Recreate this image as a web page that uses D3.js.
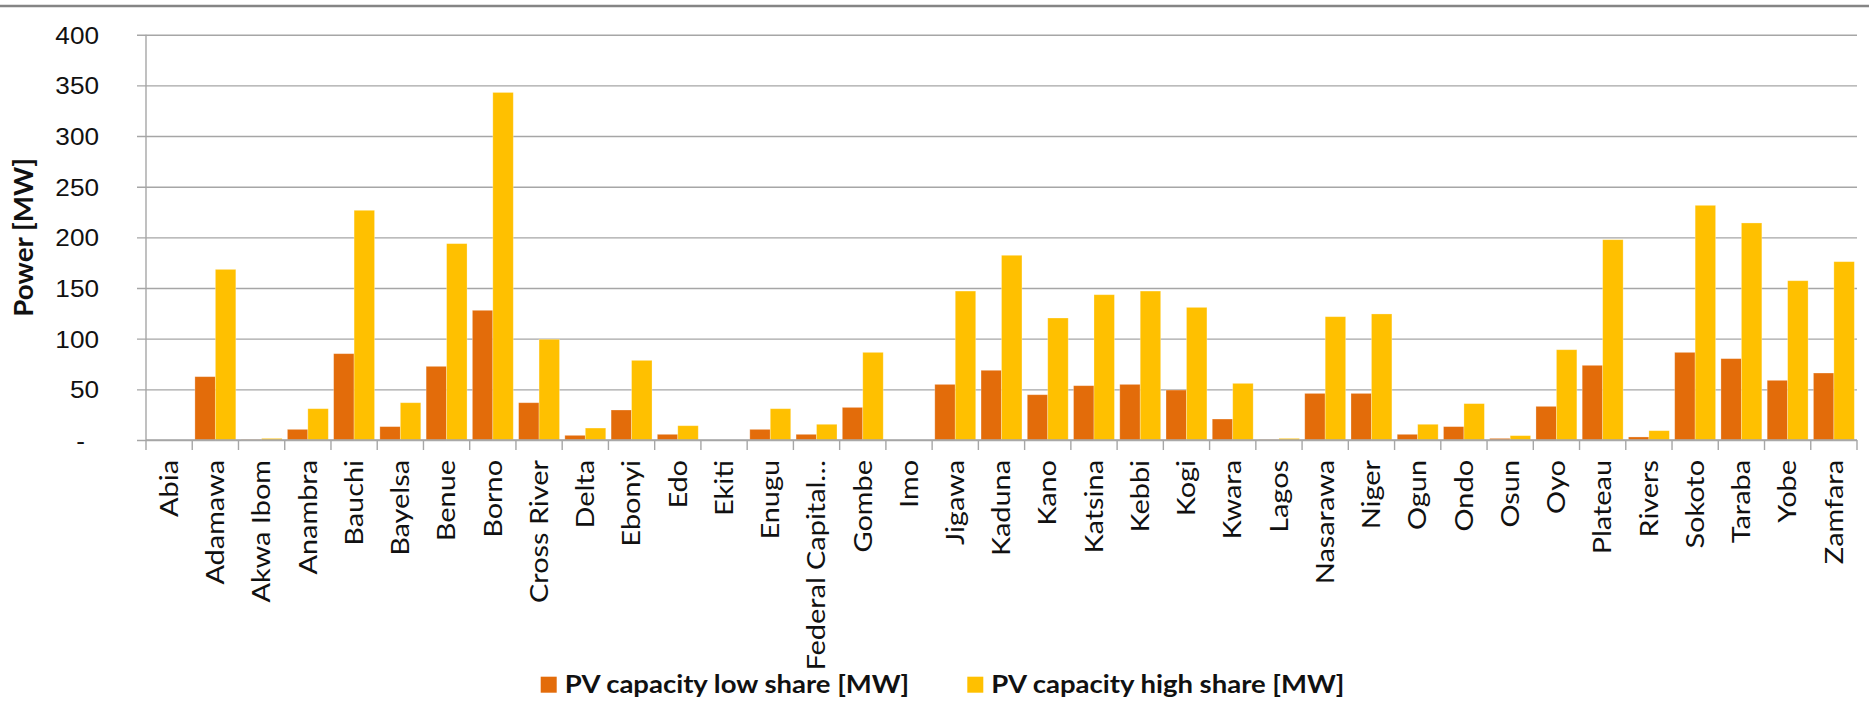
<!DOCTYPE html>
<html>
<head>
<meta charset="utf-8">
<script src="https://cdn.jsdelivr.net/npm/d3@7/dist/d3.min.js"></script>
<style>
  html, body { margin: 0; padding: 0; background: #fff; }
  svg { display: block; font-family: Lato, "Open Sans", sans-serif; }
</style>
</head>
<body>
<script>
// Nigerian states
const categories = [
  "Abia", "Adamawa", "Akwa Ibom", "Anambra", "Bauchi", "Bayelsa", "Benue", "Borno",
  "Cross River", "Delta", "Ebonyi", "Edo", "Ekiti", "Enugu", "Federal Capital…",
  "Gombe", "Imo", "Jigawa", "Kaduna", "Kano", "Katsina", "Kebbi", "Kogi", "Kwara",
  "Lagos", "Nasarawa", "Niger", "Ogun", "Ondo", "Osun", "Oyo", "Plateau", "Rivers",
  "Sokoto", "Taraba", "Yobe", "Zamfara"
];

// PV capacity, low-share scenario [MW]
const lowShare = [
  0, 62.5, 0.3, 10.5, 85.2, 13.2, 72.7, 128, 36.8, 4.6, 29.6, 5.6, 0, 10.5, 5.6,
  32.2, 0, 54.9, 68.8, 44.7, 53.6, 54.9, 49.3, 20.7, 0.3, 46, 46, 5.6, 13.2, 1.6,
  33.2, 73.7, 3, 86.5, 80.3, 58.9, 66.1
];

// PV capacity, high-share scenario [MW]
const highShare = [
  0, 168.4, 1.6, 30.9, 226.7, 36.8, 193.8, 343, 99.4, 11.8, 78.6, 14.1, 0, 30.9, 15.5,
  86.5, 0, 147, 182.3, 120.4, 143.4, 147, 130.9, 55.9, 1.6, 121.7, 124.4, 15.5, 35.9, 4.3,
  89.1, 197.7, 9.2, 231.6, 214.2, 157.2, 176
];

const seriesNames = ["PV capacity low share [MW]", "PV capacity high share [MW]"];
const seriesColors = ["#E36C0A", "#FFC000"];
const yTicks = [0, 50, 100, 150, 200, 250, 300, 350, 400];

const W = 1869, H = 721;
const plot = { left: 146, right: 1857, top: 34.7, bottom: 440 };
// category labels are drawn slightly widened
const widen = 1.155;

const svg = d3.select("body").append("svg")
  .attr("width", W).attr("height", H);

// frame line along the top edge
svg.append("line")
  .attr("x1", 0).attr("x2", W).attr("y1", 6).attr("y2", 6)
  .attr("stroke", "#858585").attr("stroke-width", 2.5);

const x = d3.scaleBand().domain(categories).range([plot.left, plot.right]).padding(0);
const xs = d3.scaleBand().domain([0, 1]).range([0, x.bandwidth()])
  .paddingInner(0).paddingOuter(0.13);
const y = d3.scaleLinear().domain([0, 400]).range([plot.bottom, plot.top]);

// horizontal gridlines + y axis
const yAxis = d3.axisLeft(y)
  .tickValues(yTicks)
  .tickSize(-(plot.right - plot.left))
  .tickPadding(0)
  .tickFormat(d => d === 0 ? "-" : d);

const gy = svg.append("g")
  .attr("transform", `translate(${plot.left},0)`)
  .call(yAxis);
gy.select(".domain").remove();
gy.selectAll(".tick line")
  .attr("x1", -9)
  .attr("stroke", "#A6A6A6").attr("stroke-width", 1.4);
gy.selectAll(".tick text")
  .attr("x", null)
  .attr("transform", d => `translate(${d === 0 ? -61 : -47},0) scale(1.09,1)`)
  .attr("dy", "0.35em")
  .attr("fill", "#111")
  .style("font-size", "24px");

// vertical axis line
svg.append("line")
  .attr("x1", plot.left).attr("x2", plot.left)
  .attr("y1", plot.top).attr("y2", plot.bottom)
  .attr("stroke", "#A6A6A6").attr("stroke-width", 1.4);

// bars
const groups = svg.append("g").selectAll("g")
  .data(categories)
  .join("g")
  .attr("transform", d => `translate(${x(d)},0)`);

groups.selectAll("rect")
  .data((d, i) => [lowShare[i], highShare[i]].map((v, s) => ({ v, s })))
  .join("rect")
  .attr("x", d => xs(d.s))
  .attr("width", xs.bandwidth())
  .attr("y", d => y(d.v))
  .attr("height", d => y(0) - y(d.v))
  .attr("fill", d => seriesColors[d.s])
  .attr("stroke", "#fff").attr("stroke-opacity", 0.35).attr("stroke-width", 0.8);

// category axis: baseline, boundary ticks, rotated labels
svg.append("line")
  .attr("x1", plot.left).attr("x2", plot.right)
  .attr("y1", plot.bottom).attr("y2", plot.bottom)
  .attr("stroke", "#A6A6A6").attr("stroke-width", 1.4);

const boundaries = categories.map(c => x(c)).concat([x(categories[categories.length - 1]) + x.step()]);
svg.append("g").selectAll("line")
  .data(boundaries)
  .join("line")
  .attr("x1", d => d).attr("x2", d => d)
  .attr("y1", plot.bottom).attr("y2", plot.bottom + 10)
  .attr("stroke", "#A6A6A6").attr("stroke-width", 1.4);

svg.append("g").selectAll("text")
  .data(categories)
  .join("text")
  .attr("transform", d => `translate(${x(d) + x.bandwidth() / 2},460) rotate(-90) scale(${widen},1)`)
  .attr("text-anchor", "end")
  .attr("dy", "0.35em")
  .attr("fill", "#111")
  .style("font-size", "25px")
  .text(d => d);

// y axis title
svg.append("text")
  .attr("transform", `translate(33,${(plot.top + plot.bottom) / 2}) rotate(-90) scale(1.07,1)`)
  .attr("text-anchor", "middle")
  .attr("fill", "#111")
  .style("font-size", "26px")
  .style("font-weight", "bold")
  .text("Power [MW]");

// legend
const legendX = [540.7, 967.3];
const legend = svg.append("g").selectAll("g")
  .data(seriesNames)
  .join("g")
  .attr("transform", (d, i) => `translate(${legendX[i]},0)`);
legend.append("rect")
  .attr("x", 0).attr("y", 676.7).attr("width", 16).attr("height", 16)
  .attr("fill", (d, i) => seriesColors[i]);
legend.append("text")
  .attr("transform", "translate(24,692.5) scale(1.1,1)")
  .attr("fill", "#111")
  .style("font-size", "25px")
  .style("font-weight", "bold")
  .text(d => d);
</script>
</body>
</html>
